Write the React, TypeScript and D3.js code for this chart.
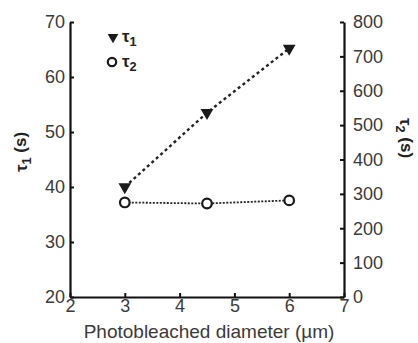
import React, { useEffect, useRef } from "react";
import * as d3 from "d3";

// photobleached diameter (µm)
const diameters = [3, 4.5, 6];
// tau1 (s), left axis
const tau1 = [40, 53.5, 65.2];
// tau2 (s), right axis
const tau2 = [275, 272, 281];

const xTicks = [2, 3, 4, 5, 6, 7];
const leftTicks = [20, 30, 40, 50, 60, 70];
const rightTicks = [0, 100, 200, 300, 400, 500, 600, 700, 800];

const W = 418;
const H = 343;
const m = { left: 70, right: 74, top: 22, bottom: 46 };
const FONT = "'Liberation Sans', Arial, sans-serif";
const GREY = "#3a3a3a";

export default function App() {
  const ref = useRef<SVGSVGElement>(null);

  useEffect(() => {
    const svg = d3.select(ref.current);
    svg.selectAll("*").remove();

    const x = d3.scaleLinear().domain([2, 7]).range([m.left, W - m.right]);
    const yL = d3.scaleLinear().domain([20, 70]).range([H - m.bottom, m.top]);
    const yR = d3.scaleLinear().domain([0, 800]).range([H - m.bottom, m.top]);

    const styleAxis = (g: any) => {
      g.select(".domain").attr("stroke", "#111").attr("stroke-width", 2.2);
      g.selectAll(".tick line").attr("stroke", "#111").attr("stroke-width", 2);
      g.selectAll(".tick text")
        .attr("fill", GREY)
        .attr("font-family", FONT)
        .attr("font-size", 18);
    };

    svg
      .append("g")
      .attr("transform", `translate(0,${H - m.bottom})`)
      .call(
        d3.axisBottom(x).tickValues(xTicks).tickFormat(d3.format("d")).tickSizeInner(-4).tickSizeOuter(0).tickPadding(2)
      )
      .call(styleAxis);

    svg
      .append("g")
      .attr("transform", `translate(${m.left},0)`)
      .call(
        d3.axisLeft(yL).tickValues(leftTicks).tickFormat(d3.format("d")).tickSizeInner(-4).tickSizeOuter(0).tickPadding(5)
      )
      .call(styleAxis);

    svg
      .append("g")
      .attr("transform", `translate(${W - m.right},0)`)
      .call(
        d3.axisRight(yR).tickValues(rightTicks).tickFormat(d3.format("d")).tickSizeInner(-4).tickSizeOuter(0).tickPadding(9)
      )
      .call(styleAxis);

    // lines
    const pts1 = diameters.map((d, i) => [x(d), yL(tau1[i])] as [number, number]);
    const pts2 = diameters.map((d, i) => [x(d), yR(tau2[i])] as [number, number]);
    const line = d3.line();

    svg
      .append("path")
      .attr("d", line(pts1))
      .attr("fill", "none")
      .attr("stroke", "#222")
      .attr("stroke-width", 2.4)
      .attr("stroke-dasharray", "3,3");

    svg
      .append("path")
      .attr("d", line(pts2))
      .attr("fill", "none")
      .attr("stroke", "#222")
      .attr("stroke-width", 1.8)
      .attr("stroke-dasharray", "2,1.5");

    const tri = d3.symbol().type(d3.symbolTriangle).size(70);
    const triSmall = d3.symbol().type(d3.symbolTriangle).size(50);

    svg
      .selectAll(".t1")
      .data(pts1)
      .enter()
      .append("path")
      .attr("d", tri)
      .attr("transform", (p) => `translate(${p[0]},${p[1]}) rotate(180)`)
      .attr("fill", "#1a1a1a");

    svg
      .selectAll(".t2")
      .data(pts2)
      .enter()
      .append("circle")
      .attr("cx", (p) => p[0])
      .attr("cy", (p) => p[1])
      .attr("r", 4.8)
      .attr("fill", "#fff")
      .attr("stroke", "#1a1a1a")
      .attr("stroke-width", 2.2);

    // legend
    svg
      .append("path")
      .attr("d", triSmall)
      .attr("transform", `translate(113,37) rotate(180)`)
      .attr("fill", "#1a1a1a");
    svg
      .append("circle")
      .attr("cx", 112)
      .attr("cy", 62)
      .attr("r", 4.2)
      .attr("fill", "#fff")
      .attr("stroke", "#1a1a1a")
      .attr("stroke-width", 2.2);

    const tauText = (g: any, sub: string) => {
      g.append("tspan").text("τ");
      g.append("tspan").attr("font-size", "0.75em").attr("dy", "0.3em").text(sub);
    };

    const leg1 = svg
      .append("text")
      .attr("x", 122)
      .attr("y", 42)
      .attr("font-family", FONT)
      .attr("font-size", 17)
      .attr("font-weight", "bold")
      .attr("fill", "#222");
    tauText(leg1, "1");
    const leg2 = svg
      .append("text")
      .attr("x", 122)
      .attr("y", 67)
      .attr("font-family", FONT)
      .attr("font-size", 17)
      .attr("font-weight", "bold")
      .attr("fill", "#222");
    tauText(leg2, "2");

    // axis titles
    svg
      .append("text")
      .attr("x", (m.left + W - m.right) / 2 + 2)
      .attr("y", 338)
      .attr("text-anchor", "middle")
      .attr("font-family", FONT)
      .attr("font-size", 19)
      .attr("fill", GREY)
      .text("Photobleached diameter (µm)");

    const yl = svg
      .append("text")
      .attr("transform", `translate(27,152) rotate(-90)`)
      .attr("text-anchor", "middle")
      .attr("font-family", FONT)
      .attr("font-size", 17)
      .attr("font-weight", "bold")
      .attr("fill", "#222");
    yl.append("tspan").text("τ");
    yl.append("tspan").attr("font-size", "0.75em").attr("dy", "0.3em").text("1");
    yl.append("tspan").attr("dy", "-0.3em").text(" (s)");

    const yr = svg
      .append("text")
      .attr("transform", `translate(400,138) rotate(90)`)
      .attr("text-anchor", "middle")
      .attr("font-family", FONT)
      .attr("font-size", 17)
      .attr("font-weight", "bold")
      .attr("fill", "#222");
    yr.append("tspan").text("τ");
    yr.append("tspan").attr("font-size", "0.75em").attr("dy", "0.3em").text("2");
    yr.append("tspan").attr("dy", "-0.3em").text(" (s)");
  }, []);

  return (
    <svg
      ref={ref}
      width={W}
      height={H}
      style={{ position: "absolute", left: 0, top: 0, background: "#fff" }}
    />
  );
}
